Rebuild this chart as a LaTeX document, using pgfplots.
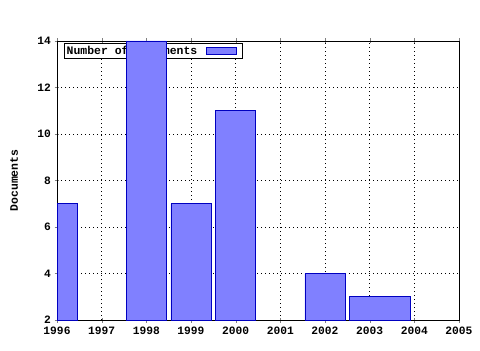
\documentclass[border=0pt]{standalone}
\usepackage{fontspec}
\setmonofont{Liberation Mono}
\usepackage{pgfplots}
\pgfplotsset{compat=1.18}
\definecolor{barfill}{HTML}{8080FF}
\definecolor{baredge}{HTML}{0000C0}
\pgfplotsset{layers/mylayers/.define layer set={axis background,axis grid,axis ticks,axis lines,axis tick labels,pre main,main,axis descriptions,axis foreground,bars}{}}
\begin{document}
\begin{tikzpicture}
\begin{axis}[
  set layers=mylayers,
  scale only axis,
  width=402bp, height=279bp,
  xmin=1996, xmax=2005, ymin=2, ymax=14,
  xtick={1996,...,2005},
  ytick={2,4,...,14},
  ytick pos=left,
  minor x tick num=3,
  tick align=center,
  major tick length=5bp, minor tick length=3bp,
  grid=major,
  grid style={black, dash pattern=on 1bp off 3bp, line width=0.8pt},
  axis line style={black, line width=0.8pt},
  /pgf/number format/assume math mode=true,
  /pgf/number format/1000 sep={},
  tick label style={font=\fontsize{11.3}{13}\selectfont\ttfamily\bfseries, text=black},
  ylabel={Documents},
  ylabel style={font=\fontsize{11.5}{13}\selectfont\ttfamily\bfseries, at={(-43bp,0.5)}, anchor=center},
  xticklabel style={yshift=-1bp},
  legend style={at={(0,1)}, anchor=north west, xshift=7bp, yshift=-2bp,
    font=\fontsize{11.5}{12}\selectfont\ttfamily\bfseries, draw=black, line width=0.8pt,
    inner sep=0.3pt, row sep=0pt},
  legend plot pos=right,
  legend image code/.code={\path[draw=none,fill=none] (0bp,0bp) -- (43bp,0bp);\draw[#1, draw=baredge, fill=barfill, line width=0.6pt] (7bp,-3.5bp) rectangle (37bp,3.5bp);},
]
\addplot[ybar, on layer=bars, bar shift=0pt, bar width=0.9, fill=barfill, draw=baredge, line width=0.6pt]
  coordinates {(1998,14) (1999,7) (2000,11) (2002,4)};
\addlegendentry{Number of documents}
\addplot[ybar, on layer=bars, bar shift=0pt, bar width=0.45, fill=barfill, draw=baredge, line width=0.6pt, forget plot]
  coordinates {(1996.225,7)};
\addplot[ybar, on layer=bars, bar shift=0pt, bar width=1.35, fill=barfill, draw=baredge, line width=0.6pt, forget plot]
  coordinates {(2003.225,3)};
\end{axis}
\path ([shift={(-57bp,-30bp)}]current axis.south west) rectangle ([shift={(21bp,41bp)}]current axis.north east);
\end{tikzpicture}
\end{document}
